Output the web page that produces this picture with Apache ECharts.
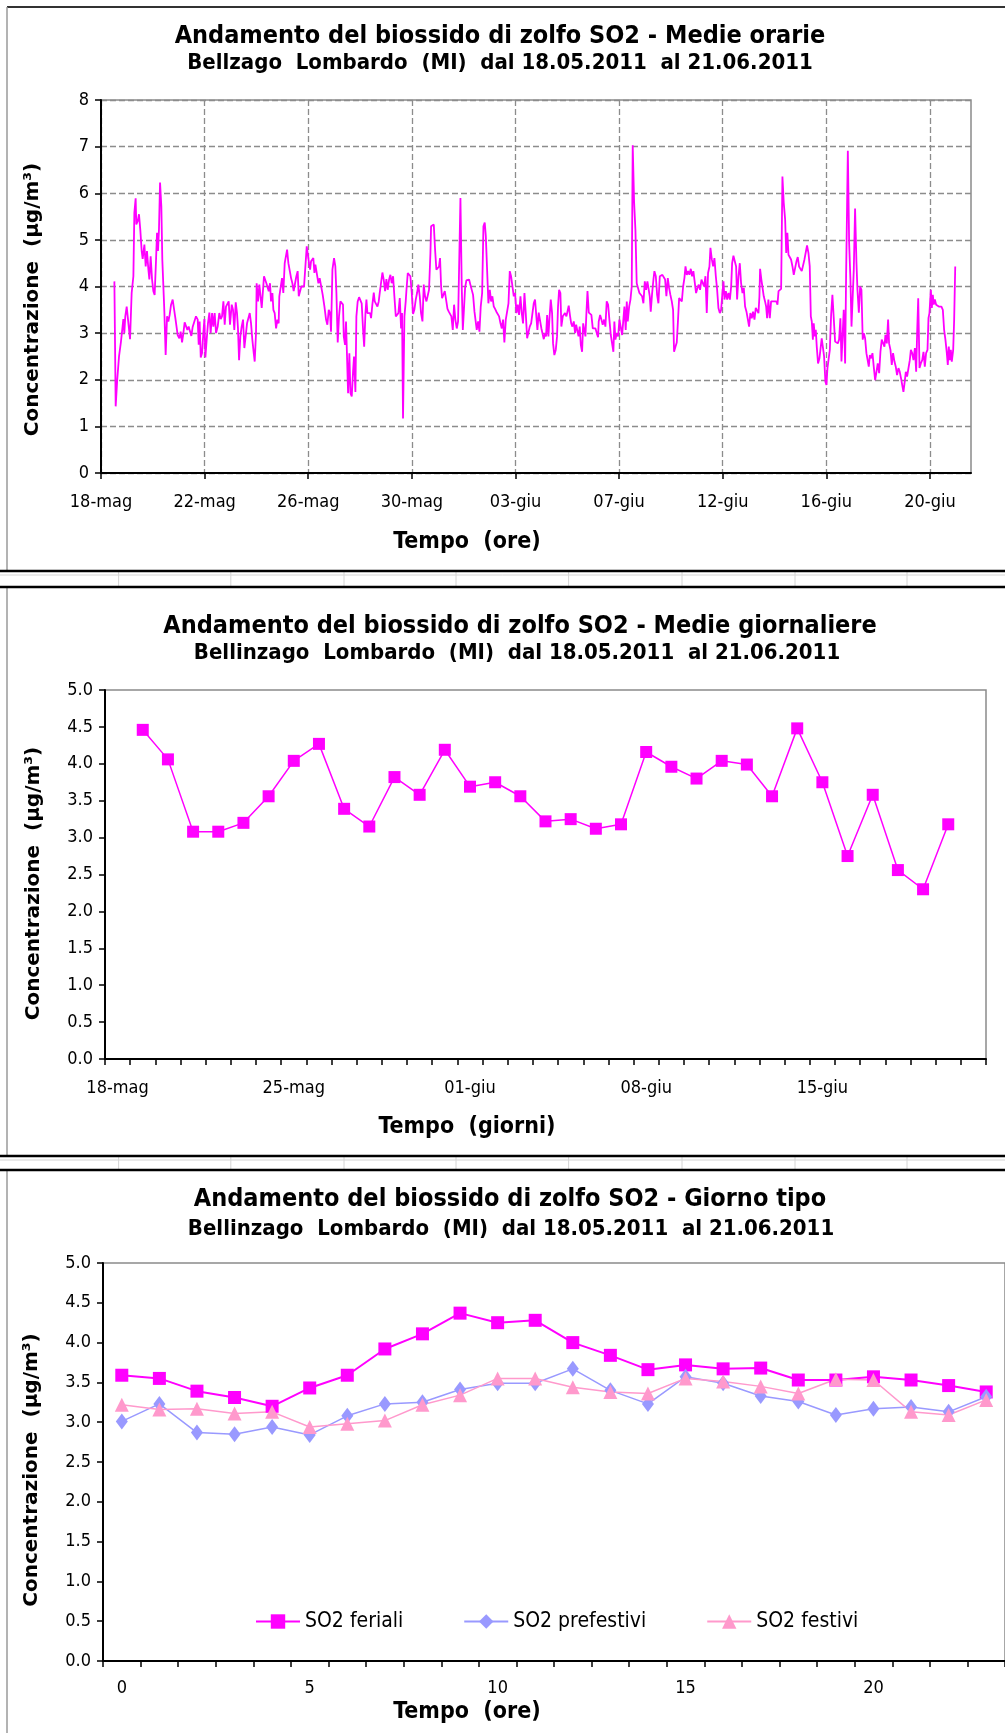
<!DOCTYPE html>
<html>
<head>
<meta charset="utf-8">
<script src="https://cdn.jsdelivr.net/npm/echarts@6/dist/echarts.min.js"></script>
<style>
html, body { margin: 0; padding: 0; background: #fff; }
#c { width: 1005px; height: 1733px; }
</style>
</head>
<body>
<div id="c"></div>
<script>
// ---------- Medie orarie: ore dall'inizio (18-mag 00:00) e valori in µg/m³ ----------
const orarieOre = [
12.4,13.6,15,16.7,18.5,19.8,20.7,21.6,22.5,23.8,25.3,26.9,28.4,30,30.9,32.1,32.7,34,35.2,36.4,37.7,38.6,40.2,41.4,42.6,43.9,44.8,46,47.3,48.5,49.7,51,51.9,52.8,53.7,54.7,55.9,56.8,58.1,58.7,59.9,61.2,62.4,63.6,64.9,66.4,67.6,68.9,70.1,71,72.6,73.8,75.1,76.3,77.5,78.8,80,81.2,82.5,83.7,84.9,86.2,88,89.6,90.5,91.4,92.4,93.6,94.8,95.8,96.7,97.9,99.1,100.4,101.6,102.9,104.1,105.3,106.6,108.1,109.6,110.9,112.1,113.4,114.6,115.8,117.1,118.3,119.5,121.1,122.3,123.5,124.8,126,126.9,127.9,129.1,130.3,131.6,132.8,134,135.3,136.5,137.8,139,140.2,141.5,142.4,143.6,144.2,145.5,146.7,148,148.9,149.8,151,152,153.2,154.4,155.4,156.6,157.5,158.8,159.7,160.9,162.2,163.4,164.6,165.2,166.5,167.7,168.9,170.2,171.4,172.4,173.6,174.8,176.1,177.3,178.5,179.8,181,182.2,183.2,184.4,185.6,186.9,188.1,189.3,190.6,191.8,192.7,193.7,194.6,195.8,196.7,197.7,198.6,
199.8,201.4,202.6,204.2,205.4,207,208.5,209.7,211,212.2,213.1,214.4,215.9,217.1,218.1,219.3,220.5,221.8,223,224.2,224.9,226.1,227,228,228.9,230.1,231.1,232.3,233.5,234.4,235.7,236.6,237.8,239.1,240.3,241.5,242.8,243.8,245,245.9,246.8,248,249.3,250.2,251.4,252.7,253.6,254.8,256.1,257.3,258.2,259.5,260.7,261.9,263.2,264.4,265.6,266.9,268.1,269.3,270.6,271.8,273.1,274.3,275.5,276.8,278,278.9,279.8,281.1,282.3,283,284.2,285.4,286.6,287.9,289.1,290.3,291.6,292.8,294,295.3,296.5,297.8,299,300.2,301.5,302.7,303.9,305.2,305.8,307,308.3,309.5,310.7,312,313.2,314.1,315.1,316,317.2,318.5,319.7,321,322.2,323.4,324.6,325.9,327.1,328.3,329.6,330.8,332.1,333,334.2,335.2,336.4,337.3,338.5,339.8,341,342.2,343.5,344.7,346,347.2,348.1,349.4,350.6,351.8,353.1,354.3,355.5,356.5,357.7,358.9,360.2,361.4,362.6,363.9,365.1,366.3,367.6,368.8,370.1,371.3,372.5,373.7,375,376.2,377.5,378.7,379.9,381.2,382.4,383.6,384.9,386.1,387.3,388.6,389.8,391,392.3,393.5,394.8,396,397.2,398.5,399.7,400.9,
402.1,403.4,404.3,405.5,406.8,408,409.2,410.2,411.4,412.3,413.3,414.5,415.4,416.7,417.9,418.8,420,421.3,422.5,423.4,424.4,425.6,426.5,427.8,428.7,429.9,431.2,432.4,433.3,434.6,435.6,436.7,438,439.2,440.2,441.4,442.4,443.5,444.5,445.7,446.7,447.6,448.8,449.7,450.7,451.9,453.1,454.3,455.6,456.8,458.1,459.3,460.5,461.1,462.4,463.6,464.8,466.1,467.3,468.5,469.8,471,472.3,473.5,474.7,475.6,476.6,477.8,479.1,480.3,481.5,482.8,484,484.9,486.1,487.1,488,489.3,490.5,491.7,492.6,493.9,495.1,496.3,497.6,498.8,500,501.3,502.5,503.8,505,506.2,507.5,508.4,509.3,510.6,511.8,512.7,514,515.2,516.4,517.7,518.9,520.1,521.4,522.6,523.8,525.1,526.3,527.5,528.8,530,530.9,532.2,533.4,534.4,535.6,536.8,538.1,539.3,540.5,541.5,542.7,544,545.1,546.4,547.6,548.8,550.1,551.3,552.6,553.8,555,556.3,557.5,558.7,560,561.2,562.4,563.7,564.6,565.9,567.1,568.3,569.6,570.8,572,573.3,574.5,575.7,576.7,577.6,578.9,580.1,581.3,582.6,583.8,584.7,585.9,587.1,588.4,589.3,590.6,591.8,593,594.3,595.5,596.7,598,599.2,
600.4,601.6,602.9,604.1,605.4,606.6,607.8,609.1,610,610.6,611.8,613.1,614,615.2,616.2,617.1,618.3,619.6,620.8,622.1,623.3,624.5,625.7,626.7,627.7,628.8,630.1,631.3,632.5,633.8,634.8,635.9,636.9,638.1,639.3,640.6,641.8,643,644.3,645.5,646.7,648,649.2,650.4,651.7,652.9,654.1,655.4,656.6,657.6,658.5,659.5,660.3,661.3,662.2,663.1,664.3,665.6,666.8,667.7,668.7,669.9,671.1,672.1,673,673.9,675.2,676.4,677.6,678.9,680.1,681.3,682.6,683.8,685,686,686.9,688.1,689.4,690.3,691.2,691.9,693.1,694.3,695.3,696.5,697.4,698.6,699.9,700.8,702.1,703.3,704.5,705.7,706.7,707.9,709.1,710.4,711.3,712.3,713.5,714.7,715.9,717.2,718.4,719.6,720.9,722.1,723.3,724.6,725.8,726.7,728,729.2,730.1,731.4,732.6,733.8,735.1,736.3,737.5,738.8,740,741.2,742.5,743.4,744.4,745.6,746.8,748.1,749.3,750.3,751.5,752.7,754,755.2,756.1,757.1,758.3,759.5,760.8,762,763.2,764.4,765.7,766.6,767.5,768.8,769.7,770.6,771.5,772.5,773.7,774.9,776.2,777.4,778.6,779.9,781.1,782.3,783.6,784.5,785.4,786.4,787.3,788.2,789.5,790.4,791.4
];
const orarieValori = [
4.11,1.43,1.99,2.5,2.82,3.1,3.3,3.0,3.36,3.57,3.61,2.87,3.86,4.22,5.58,5.89,5.33,5.4,5.55,5.22,4.76,4.59,4.9,4.43,4.76,4.36,4.15,4.65,4.15,3.9,3.82,4.58,5.15,4.76,5.22,6.23,5.72,4.58,3.82,3.46,2.53,3.36,3.25,3.39,3.61,3.72,3.73,3.32,3.29,2.96,2.89,3.03,2.8,3.0,3.23,3.2,3.07,3.14,3.16,2.94,3.13,3.14,3.36,3.29,2.75,3.25,2.48,2.57,3.0,3.3,2.48,2.86,3.21,3.44,3.0,3.43,3.14,3.43,3.0,3.14,3.43,3.3,3.36,3.68,3.18,3.57,3.61,3.68,3.18,3.61,3.5,3.07,3.66,3.43,3.1,2.42,2.93,3.14,3.29,2.68,2.93,3.21,3.25,3.43,3.21,2.86,2.57,2.39,3.0,4.07,3.68,4.04,4.07,3.54,3.57,4.22,4.23,4.07,4.11,3.9,4.07,3.68,3.86,3.5,3.43,3.1,3.29,3.21,3.79,3.82,4.18,3.86,4.5,4.52,4.79,4.5,4.54,4.18,4.07,3.9,4.07,4.22,4.33,3.79,3.79,4.0,4.0,4.0,4.04,4.86,4.9,4.5,4.36,4.54,4.5,4.61,4.29,4.47,
4.43,4.07,4.18,4.15,3.82,3.57,3.29,3.18,3.5,3.43,3.03,4.36,4.61,4.43,3.86,2.8,3.36,3.68,3.66,3.61,2.93,2.75,3.25,3.29,1.71,2.57,1.71,1.64,2.17,2.5,1.74,3.36,3.68,3.77,3.75,3.64,3.07,2.71,3.43,3.72,3.43,3.44,3.43,3.32,3.61,3.87,3.68,3.72,3.57,3.68,3.86,3.86,4.3,4.15,3.9,4.16,3.93,4.15,4.25,4.07,4.22,3.79,3.36,3.39,3.43,3.75,3.1,3.43,1.17,3.36,3.68,3.93,4.29,4.29,4.22,3.86,3.41,3.5,3.72,3.86,4.04,3.79,3.43,3.25,4.04,3.79,3.68,3.72,3.93,4.72,5.29,5.29,5.33,4.79,4.36,4.4,4.43,4.61,4.0,3.75,3.72,3.9,3.72,3.52,3.46,3.5,3.36,3.07,3.61,3.29,3.1,3.25,3.29,5.9,4.0,3.07,3.57,3.97,4.13,4.11,4.15,4.04,4.0,3.82,3.46,3.43,3.07,3.25,3.03,3.57,3.86,5.29,5.37,5.08,4.36,3.64,3.93,3.68,3.79,3.57,3.52,3.46,3.44,3.36,3.21,3.1,3.29,2.8,3.29,3.3,3.64,4.33,4.22,4.0,3.79,3.86,3.43,3.61,3.39,3.79,3.43,3.21,3.86,3.43,2.89,2.86,3.14,3.21,3.21,3.64,
3.72,3.72,3.07,3.44,3.43,3.1,3.1,2.87,3.0,2.93,3.39,2.93,3.29,3.72,3.43,2.78,2.53,2.64,2.93,3.57,3.93,3.86,3.14,3.36,3.34,3.43,3.36,3.39,3.59,3.36,3.21,3.14,3.25,3.0,3.18,3.2,2.93,3.14,2.75,2.6,3.21,3.25,2.93,3.43,3.9,3.44,3.43,3.39,3.1,3.07,3.1,3.0,2.91,3.25,3.39,3.29,3.18,3.29,3.14,3.68,3.61,3.29,2.96,3.0,2.6,3.25,2.86,3.0,2.93,3.29,3.32,2.96,3.0,3.57,3.07,3.68,3.25,3.57,3.72,4.0,7.03,5.8,5.22,4.07,4.07,3.86,3.86,3.79,3.64,4.11,3.93,4.11,4.11,3.79,3.46,3.86,4.15,4.33,4.22,3.82,3.64,4.22,4.22,4.25,4.22,4.15,3.79,4.18,3.97,3.82,3.68,3.5,2.6,2.71,2.8,3.21,3.75,3.79,3.68,4.0,4.18,4.43,4.25,4.33,4.25,4.38,4.22,4.33,4.29,3.86,3.97,4.04,3.93,4.15,4.18,4.0,4.22,3.43,4.29,4.43,4.83,4.58,4.43,4.61,4.22,3.93,3.54,3.43,3.5,3.86,4.11,3.72,3.9,3.72,3.86,3.72,4.0,4.5,4.66,4.68,4.43,3.72,4.22,4.5,4.07,3.86,3.97,3.57,3.46,3.5,
3.14,3.43,3.32,3.46,3.29,3.54,3.57,3.43,3.79,4.38,4.15,4.18,3.79,3.68,3.57,3.32,3.72,3.32,3.68,3.68,3.68,3.72,3.68,3.61,3.9,3.93,3.95,6.36,5.8,5.44,4.72,5.15,4.68,4.72,4.58,4.43,4.25,4.23,4.54,4.63,4.43,4.43,4.33,4.29,4.58,4.58,4.88,4.72,4.43,3.36,3.25,2.86,3.21,2.93,3.07,2.71,2.35,2.46,2.46,2.89,2.86,2.5,1.96,1.89,2.25,2.25,2.64,3.39,3.82,3.79,2.82,2.86,2.78,2.86,3.32,2.39,2.35,3.5,2.35,4.25,5.72,6.91,4.94,4.15,3.14,3.1,4.36,5.67,4.5,3.93,3.44,4.0,3.93,2.86,3.0,2.89,2.57,2.57,2.28,2.53,2.46,2.57,2.28,1.99,2.17,2.35,2.14,2.6,2.86,2.82,2.71,2.96,2.78,3.29,2.78,2.64,2.32,2.57,2.39,2.28,2.1,2.25,2.17,2.03,2.07,1.74,1.92,2.17,2.07,2.1,2.42,2.64,2.57,2.42,2.68,2.17,3.0,3.75,2.25,2.35,2.42,2.6,2.28,2.57,2.64,3.32,3.43,3.93,3.54,3.82,3.61,3.72,3.61,3.64,3.57,3.61,3.57,3.5,3.07,2.86,2.57,2.32,2.71,2.42,2.64,2.39,2.64,3.29,4.43
];
// etichette dell'asse dei tempi, una ogni 96 ore
const orarieEtichette = ['18-mag','22-mag','26-mag','30-mag','03-giu','07-giu','12-giu','16-giu','20-giu'];
const oreFinePeriodo = 806;

// ---------- Medie giornaliere ----------
const giorni = [
  '18-mag','19-mag','20-mag','21-mag','22-mag','23-mag','24-mag','25-mag','26-mag','27-mag','28-mag','29-mag','30-mag','31-mag',
  '01-giu','02-giu','03-giu','04-giu','05-giu','06-giu','07-giu','08-giu','09-giu','10-giu','11-giu','12-giu','13-giu','14-giu',
  '15-giu','16-giu','17-giu','18-giu','19-giu','20-giu','21-giu'
];
const medieGiornaliere = [
  null,4.46,4.06,3.08,3.08,3.2,3.56,4.04,4.27,3.39,3.15,3.82,3.58,4.19,3.69,3.75,3.56,3.22,3.25,3.12,3.18,
  4.16,3.96,3.8,4.04,3.99,3.56,4.48,3.75,2.75,3.58,2.56,2.3,3.18,null
];

// ---------- Giorno tipo ----------
const oreGiorno = ['0','1','2','3','4','5','6','7','8','9','10','11','12','13','14','15','16','17','18','19','20','21','22','23'];
const feriali    = [3.59,3.55,3.39,3.31,3.20,3.43,3.59,3.92,4.11,4.37,4.25,4.28,4.00,3.84,3.66,3.72,3.67,3.68,3.53,3.53,3.57,3.53,3.46,3.38];
const prefestivi = [3.01,3.23,2.87,2.85,2.94,2.84,3.08,3.23,3.25,3.41,3.49,3.49,3.67,3.40,3.23,3.57,3.49,3.33,3.26,3.09,3.17,3.19,3.13,3.32];
const festivi    = [3.22,3.16,3.17,3.11,3.13,2.94,2.98,3.02,3.22,3.34,3.55,3.55,3.44,3.38,3.36,3.55,3.51,3.45,3.36,3.54,3.53,3.13,3.09,3.28];

// ---------- stile ----------
const FONT_N = '"DejaVu Sans Condensed", "Liberation Sans Narrow", "Arial Narrow", sans-serif';
const FONT_W = '"DejaVu Sans", Verdana, sans-serif';
const MAGENTA = '#ff00ff';
const GRID_DASH = { type: [6, 3], color: '#8c8c8c', width: 1.3 };
const Y_NAME = 'Concentrazione  (µg/m³)';

const labelStyle = { fontFamily: FONT_N, fontSize: 18, color: '#000' };
function yNameStyle(shift) {
  return { fontFamily: FONT_W, fontWeight: 'bold', fontSize: 20, color: '#000', padding: [0, shift, 0, 0] };
}
const axisBlack = { show: true, lineStyle: { color: '#000', width: 2 } };
const tickBlack = { show: true, length: 6, lineStyle: { color: '#000', width: 1.5 } };

function txt(text, x, y, size, weight) {
  return {
    type: 'text', x: x, y: y, silent: true,
    style: {
      text: text, fill: '#000',
      font: (weight || 'bold') + ' ' + size + 'px ' + FONT_N,
      align: 'center', verticalAlign: 'middle',
      textAlign: 'center', textVerticalAlign: 'middle'
    }
  };
}
function hline(y, x1, x2, color, w) {
  return { type: 'line', silent: true, shape: { x1: x1, y1: y, x2: x2, y2: y }, style: { stroke: color, lineWidth: w } };
}
function vline(x, y1, y2, color, w) {
  return { type: 'line', silent: true, shape: { x1: x, y1: y1, x2: x, y2: y2 }, style: { stroke: color, lineWidth: w } };
}

// cornici dei tre riquadri e strisce di celle tra un riquadro e l'altro
const celle = [118.6, 230.8, 344, 456, 568.6, 682, 795, 907];
const cornici = [
  hline(7, 7, 1005, '#333', 2),
  vline(7, 7, 571, '#9a9a9a', 1.5),
  vline(7, 587, 1156, '#9a9a9a', 1.5),
  vline(7, 1170, 1733, '#9a9a9a', 1.5),
  hline(575, 0, 1005, '#d4d4d4', 1),
  hline(1160, 0, 1005, '#d4d4d4', 1)
];
celle.forEach(function (x) {
  cornici.push(vline(x, 572, 586, '#d4d4d4', 1));
  cornici.push(vline(x, 1157, 1169, '#d4d4d4', 1));
});
cornici.push(hline(571, 0, 1005, '#000', 2.5));
cornici.push(hline(587, 0, 1005, '#000', 2.5));
cornici.push(hline(1156, 0, 1005, '#000', 2.5));
cornici.push(hline(1170, 0, 1005, '#000', 2.5));

const testi = [
  txt('Andamento del biossido di zolfo SO2 - Medie orarie', 500, 36, 25),
  txt('Bellzago  Lombardo  (MI)  dal 18.05.2011  al 21.06.2011', 500, 63, 22),
  txt('Tempo  (ore)', 467, 542, 23),
  txt('Andamento del biossido di zolfo SO2 - Medie giornaliere', 520, 626, 25),
  txt('Bellinzago  Lombardo  (MI)  dal 18.05.2011  al 21.06.2011', 517, 653, 22),
  txt('Tempo  (giorni)', 467, 1127, 23),
  txt('Andamento del biossido di zolfo SO2 - Giorno tipo', 510, 1199, 25),
  txt('Bellinzago  Lombardo  (MI)  dal 18.05.2011  al 21.06.2011', 511, 1229, 22),
  txt('Tempo  (ore)', 467, 1712, 23)
];

const tickOre = orarieEtichette.map(function (_, i) { return i * 96; });

const option = {
  animation: false,
  backgroundColor: '#fff',
  graphic: cornici.concat(testi),
  grid: [
    { left: 101, top: 100, width: 870, height: 373, show: true, borderColor: '#8a8a8a', borderWidth: 1.5 },
    { left: 105, top: 690, width: 881, height: 369, show: true, borderColor: '#8a8a8a', borderWidth: 1.5 },
    { left: 103, top: 1263, width: 912, height: 398, show: true, borderColor: '#8a8a8a', borderWidth: 1.5 }
  ],
  xAxis: [
    {
      gridIndex: 0, type: 'value', min: 0, max: oreFinePeriodo, interval: 96,
      axisLine: axisBlack,
      axisTick: { show: true, length: 6, lineStyle: { color: '#000', width: 1.5 }, customValues: tickOre },
      axisLabel: Object.assign({ margin: 20, customValues: tickOre,
        formatter: function (v) { const i = Math.round(v / 96); return orarieEtichette[i] || ''; } }, labelStyle),
      splitLine: { show: true, lineStyle: GRID_DASH }
    },
    {
      gridIndex: 1, type: 'category', data: giorni, boundaryGap: true,
      axisLine: axisBlack,
      axisTick: { show: true, interval: 0, length: 6, lineStyle: { color: '#000', width: 1.5 } },
      axisLabel: Object.assign({ interval: 6, margin: 20 }, labelStyle),
      splitLine: { show: false }
    },
    {
      gridIndex: 2, type: 'category', data: oreGiorno, boundaryGap: true,
      axisLine: axisBlack,
      axisTick: { show: true, interval: 0, length: 6, lineStyle: { color: '#000', width: 1.5 } },
      axisLabel: Object.assign({ interval: 4, margin: 18 }, labelStyle),
      splitLine: { show: false }
    }
  ],
  yAxis: [
    {
      gridIndex: 0, type: 'value', min: 0, max: 8, interval: 1,
      name: Y_NAME, nameLocation: 'middle', nameRotate: 90, nameGap: 58, nameTextStyle: yNameStyle(26),
      axisLine: axisBlack, axisTick: tickBlack,
      axisLabel: Object.assign({ margin: 12 }, labelStyle),
      splitLine: { show: true, lineStyle: GRID_DASH }
    },
    {
      gridIndex: 1, type: 'value', min: 0, max: 5, interval: 0.5,
      name: Y_NAME, nameLocation: 'middle', nameRotate: 90, nameGap: 61, nameTextStyle: yNameStyle(18),
      axisLine: axisBlack, axisTick: tickBlack,
      axisLabel: Object.assign({ margin: 12, formatter: function (v) { return v.toFixed(1); } }, labelStyle),
      splitLine: { show: false }
    },
    {
      gridIndex: 2, type: 'value', min: 0, max: 5, interval: 0.5,
      name: Y_NAME, nameLocation: 'middle', nameRotate: 90, nameGap: 61, nameTextStyle: yNameStyle(16),
      axisLine: axisBlack, axisTick: tickBlack,
      axisLabel: Object.assign({ margin: 12, formatter: function (v) { return v.toFixed(1); } }, labelStyle),
      splitLine: { show: false }
    }
  ],
  legend: {
    left: 255, top: 1611, padding: 0, itemWidth: 44, itemHeight: 18, itemGap: 60,
    textStyle: { fontFamily: FONT_N, fontSize: 21, color: '#000' },
    data: ['SO2 feriali', 'SO2 prefestivi', 'SO2 festivi']
  },
  series: [
    {
      name: 'SO2 orarie', type: 'line', xAxisIndex: 0, yAxisIndex: 0,
      data: orarieOre.map(function (h, i) { return [h, orarieValori[i]]; }),
      showSymbol: false, symbol: 'none',
      lineStyle: { color: MAGENTA, width: 1.8 }, itemStyle: { color: MAGENTA }
    },
    {
      name: 'SO2 giornaliere', type: 'line', xAxisIndex: 1, yAxisIndex: 1,
      data: medieGiornaliere, symbol: 'rect', symbolSize: 12,
      lineStyle: { color: MAGENTA, width: 1.5 }, itemStyle: { color: MAGENTA }
    },
    {
      name: 'SO2 feriali', type: 'line', xAxisIndex: 2, yAxisIndex: 2,
      data: feriali, symbol: 'rect', symbolSize: 13,
      lineStyle: { color: MAGENTA, width: 2 }, itemStyle: { color: MAGENTA }
    },
    {
      name: 'SO2 prefestivi', type: 'line', xAxisIndex: 2, yAxisIndex: 2,
      data: prefestivi, symbol: 'diamond', symbolSize: [12, 16],
      lineStyle: { color: '#9999ff', width: 1.5 }, itemStyle: { color: '#9999ff' }
    },
    {
      name: 'SO2 festivi', type: 'line', xAxisIndex: 2, yAxisIndex: 2,
      data: festivi, symbol: 'triangle', symbolSize: 14,
      lineStyle: { color: '#ff99cc', width: 1.5 }, itemStyle: { color: '#ff99cc' }
    }
  ]
};

const chart = echarts.init(document.getElementById('c'), null, { renderer: 'canvas' });
chart.setOption(option);
</script>
</body>
</html>
